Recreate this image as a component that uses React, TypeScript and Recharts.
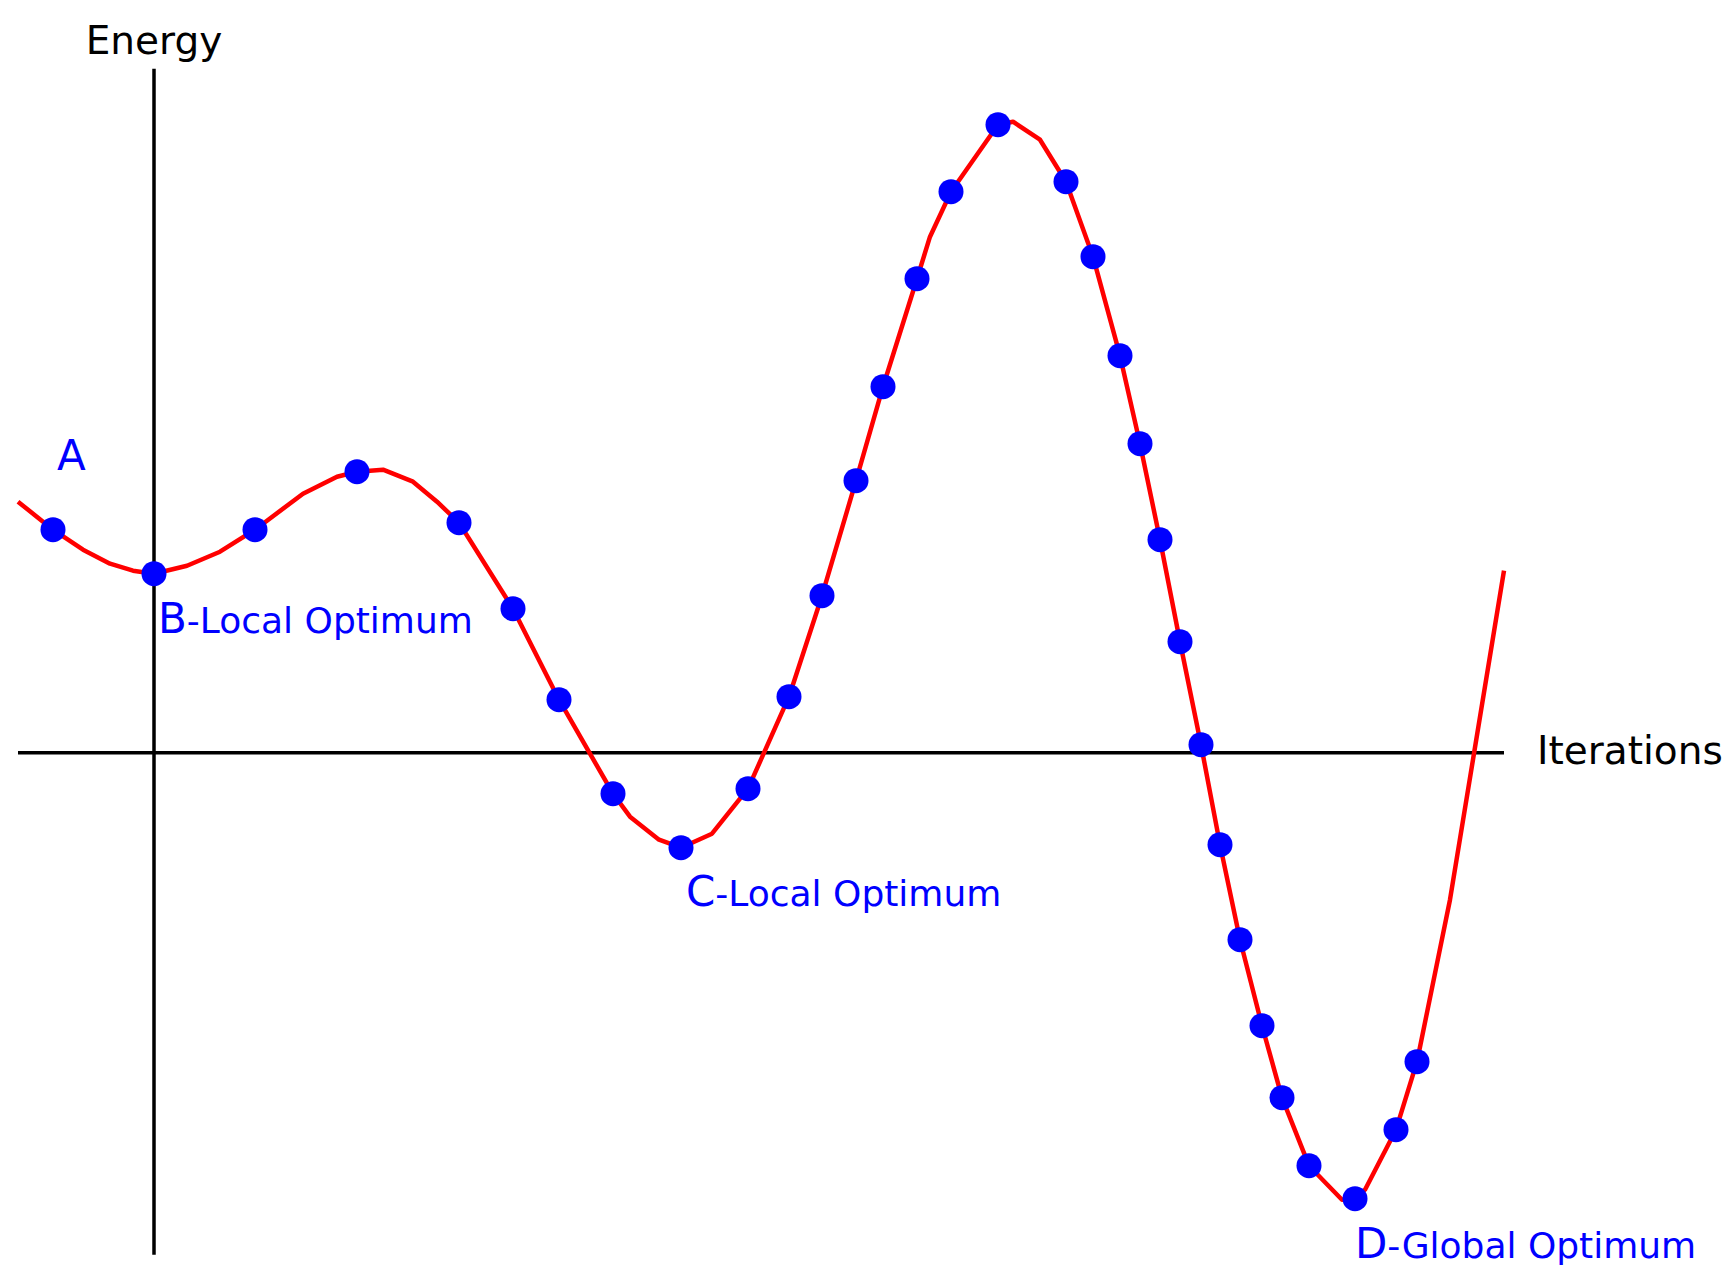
import {
  ComposedChart,
  Line,
  XAxis,
  YAxis,
  ReferenceDot,
  ReferenceLine,
} from 'recharts'

// energy curve (iterations vs energy), axes cross at (0, 0)
const CURVE_X = [
  -13.6, -10.1, -7.1, -4.4, -2.1, 0, 3.3, 6.6, 10.1, 14.9, 18.3, 20.3, 22.9, 25.9, 28.3,
  30.5, 35.9, 40.5, 45.9, 47.6, 50.5, 52.7, 55.8, 59.4, 63.5, 66.8, 70.2, 72.9, 76.3,
  77.6, 79.7, 84.4, 85.9, 88.6, 91.2, 93.9, 96.6, 98.6, 100.6, 102.6, 104.7, 106.6,
  108.6, 110.8, 112.8, 115.5, 118.8, 120.1, 121.1, 124.2, 126.3, 129.6, 135.0,
]
const CURVE_Y = [
  25.1, 22.3, 20.3, 18.9, 18.2, 17.9, 18.7, 20.1, 22.3, 25.9, 27.6, 28.1, 28.3, 27.1, 25.1,
  23.0, 14.4, 5.3, -4.1, -6.4, -8.7, -9.5, -8.1, -3.6, 5.6, 15.7, 27.2, 36.6, 47.4,
  51.6, 56.1, 62.8, 63.1, 61.3, 57.1, 49.6, 39.7, 30.9, 21.3, 11.1, 0.8, -9.2,
  -18.7, -27.3, -34.5, -41.3, -44.7, -44.6, -43.7, -37.7, -30.9, -14.7, 18.2,
]

// sampled iterations (blue dots)
const DOT_X = [
  -10.1, 0, 10.1, 20.3, 30.5, 35.9, 40.5, 45.9, 52.7, 59.4, 63.5, 66.8, 70.2, 72.9,
  76.3, 79.7, 84.4, 91.2, 93.9, 96.6, 98.6, 100.6, 102.6, 104.7, 106.6, 108.6, 110.8,
  112.8, 115.5, 120.1, 124.2, 126.3,
]
const DOT_Y = [
  22.3, 17.9, 22.3, 28.1, 23.0, 14.4, 5.3, -4.1, -9.5, -3.6, 5.6, 15.7, 27.2, 36.6,
  47.4, 56.1, 62.8, 57.1, 49.6, 39.7, 30.9, 21.3, 11.1, 0.8, -9.2, -18.7, -27.3,
  -34.5, -41.3, -44.6, -37.7, -30.9,
]

// axis line extents
const H_AXIS_X = [-13.6, 135.0]
const V_AXIS_Y = [-50.2, 68.4]

const X_DOMAIN = [-15.4, 158.2]
const Y_DOMAIN = [-53.43, 75.27]

const curve = CURVE_X.map((x, i) => ({ iter: x, energy: CURVE_Y[i] }))
const dots = DOT_X.map((x, i) => ({ iter: x, energy: DOT_Y[i] }))

const FONT = '"DejaVu Sans", Verdana, sans-serif'
const BLUE = '#0000ff'

function annot(first: string, rest: string, dx: number, dy: number) {
  return (props: any) => {
    const vb = props.viewBox || {}
    const cx = vb.x + (vb.width || 0) / 2
    const cy = vb.y + (vb.height || 0) / 2
    return (
      <text x={cx + dx} y={cy + dy} fill={BLUE} fontFamily={FONT}>
        <tspan fontSize={42}>{first}</tspan>
        <tspan fontSize={36}>{rest}</tspan>
      </text>
    )
  }
}

function axisTitle(text: string, dx: number, dy: number, anchor: string) {
  return (props: any) => {
    const vb = props.viewBox || {}
    const cx = vb.x + (vb.width || 0) / 2
    const cy = vb.y + (vb.height || 0) / 2
    return (
      <text x={cx + dx} y={cy + dy} fill="#000" fontFamily={FONT} fontSize={39} textAnchor={anchor}>
        {text}
      </text>
    )
  }
}

export default function App() {
  return (
    <div style={{ position: 'absolute', left: 0, top: 0, background: '#fff' }}>
      <ComposedChart width={1736} height={1287} margin={{ top: 0, right: 0, bottom: 0, left: 0 }}>
        <XAxis dataKey="iter" type="number" domain={X_DOMAIN} allowDataOverflow hide />
        <YAxis dataKey="energy" type="number" domain={Y_DOMAIN} allowDataOverflow hide />
        <ReferenceLine
          segment={[{ x: H_AXIS_X[0], y: 0 }, { x: H_AXIS_X[1], y: 0 }]}
          stroke="#000"
          strokeWidth={3.5}
        />
        <ReferenceLine
          segment={[{ x: 0, y: V_AXIS_Y[0] }, { x: 0, y: V_AXIS_Y[1] }]}
          stroke="#000"
          strokeWidth={3.5}
        />
        <Line
          data={curve}
          dataKey="energy"
          type="linear"
          stroke="#ff0000"
          strokeWidth={4.5}
          strokeLinejoin="round"
          dot={false}
          activeDot={false}
          isAnimationActive={false}
        />
        <Line
          data={dots}
          dataKey="energy"
          stroke="none"
          dot={{ r: 12.5, fill: BLUE, stroke: 'none' }}
          activeDot={false}
          isAnimationActive={false}
        />
        <ReferenceDot x={DOT_X[0]} y={DOT_Y[0]} r={0} fill="none" stroke="none" label={{ content: annot('A', '', 4, -60) }} />
        <ReferenceDot x={DOT_X[1]} y={DOT_Y[1]} r={0} fill="none" stroke="none" label={{ content: annot('B', '-Local Optimum', 4, 59) }} />
        <ReferenceDot x={DOT_X[8]} y={DOT_Y[8]} r={0} fill="none" stroke="none" label={{ content: annot('C', '-Local Optimum', 5, 58) }} />
        <ReferenceDot x={DOT_X[29]} y={DOT_Y[29]} r={0} fill="none" stroke="none" label={{ content: annot('D', '-Global Optimum', 0, 59) }} />
        <ReferenceDot x={0} y={V_AXIS_Y[1]} r={0} fill="none" stroke="none" label={{ content: axisTitle('Energy', 0, -15, 'middle') }} />
        <ReferenceDot x={H_AXIS_X[1]} y={0} r={0} fill="none" stroke="none" label={{ content: axisTitle('Iterations', 33, 11, 'start') }} />
      </ComposedChart>
    </div>
  )
}
